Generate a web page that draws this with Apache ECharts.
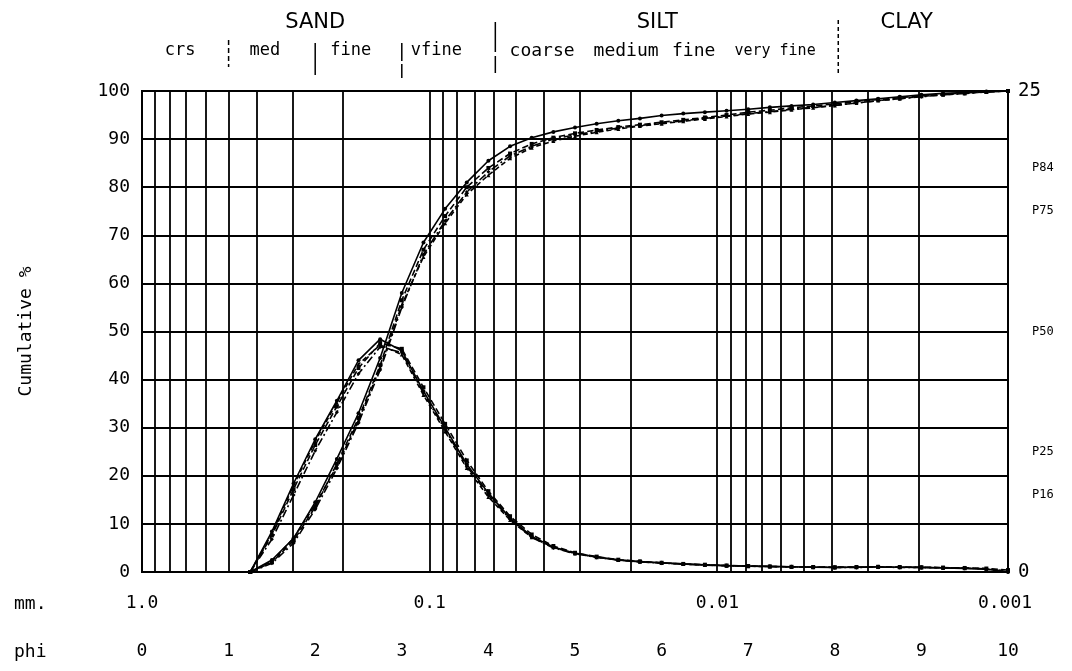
<!DOCTYPE html>
<html>
<head>
<meta charset="utf-8">
<script src="https://cdn.jsdelivr.net/npm/echarts@6/dist/echarts.min.js"></script>
<style>
html, body { margin: 0; padding: 0; background: #fff; }
#chart { width: 1072px; height: 671px; }
</style>
</head>
<body>
<div id="chart"></div>
<script>
// phi positions of the measured points (every 1/4 phi)
const phiSteps = [1.25, 1.5, 1.75, 2, 2.25, 2.5, 2.75, 3, 3.25, 3.5, 3.75, 4, 4.25, 4.5, 4.75, 5, 5.25, 5.5,
	5.75, 6, 6.25, 6.5, 6.75, 7, 7.25, 7.5, 7.75, 8, 8.25, 8.5, 8.75, 9, 9.25, 9.5, 9.75, 10]

// cumulative % (left axis)
const cum1 = [0, 2.5, 7, 14.5, 23.5, 33, 44.5, 58, 68.5, 75.5, 81, 85.5, 88.5, 90.3, 91.5, 92.4, 93.2, 93.8,
	94.3, 94.9, 95.3, 95.6, 95.9, 96.2, 96.6, 96.9, 97.2, 97.6, 98.0, 98.4, 98.8, 99.2, 99.5, 99.7, 99.9, 100]
const cum2 = [0, 2, 6.5, 13.5, 22.5, 32, 43, 56.5, 67, 74, 80, 84, 87, 89, 90.3, 91.2, 91.9, 92.5,
	93.0, 93.5, 94.0, 94.5, 95.0, 95.6, 96.0, 96.5, 96.9, 97.3, 97.8, 98.2, 98.6, 99.0, 99.3, 99.6, 99.8, 100]
const cum3 = [0, 1.8, 6, 13, 21.5, 31, 42, 55, 66, 73, 79, 83.2, 86.5, 88.5, 90, 90.9, 91.6, 92.3,
	92.8, 93.3, 93.8, 94.3, 94.8, 95.3, 95.7, 96.2, 96.6, 97.0, 97.5, 98.0, 98.4, 98.8, 99.2, 99.5, 99.8, 100]
const cum4 = [0, 2.2, 7, 14, 22, 31.5, 42.5, 55.5, 65.5, 72.5, 78.5, 82.5, 86, 88.2, 89.6, 90.6, 91.4, 92.1,
	92.7, 93.2, 93.7, 94.2, 94.7, 95.2, 95.6, 96.1, 96.5, 97.0, 97.5, 98.0, 98.4, 98.9, 99.2, 99.5, 99.8, 100]

// frequency % (right axis, 0 - 25)
const freq1 = [0, 2.1, 4.6, 6.9, 8.9, 11.0, 12.1, 11.5, 9.4, 7.5, 5.6, 4.1, 2.8, 1.85, 1.3, 0.98, 0.78, 0.63,
	0.54, 0.48, 0.42, 0.37, 0.33, 0.31, 0.29, 0.27, 0.25, 0.24, 0.25, 0.27, 0.25, 0.24, 0.21, 0.19, 0.14, 0]
const freq2 = [0, 1.9, 4.3, 6.6, 8.6, 10.6, 11.9, 11.6, 9.6, 7.7, 5.8, 4.2, 2.9, 1.95, 1.35, 1.0, 0.8, 0.64,
	0.55, 0.48, 0.42, 0.38, 0.34, 0.31, 0.29, 0.27, 0.26, 0.25, 0.26, 0.27, 0.26, 0.25, 0.23, 0.21, 0.18, 0.1]
const freq3 = [0, 1.7, 4.0, 6.3, 8.3, 10.3, 11.7, 11.4, 9.3, 7.4, 5.5, 4.0, 2.75, 1.8, 1.25, 0.95, 0.76, 0.62,
	0.52, 0.46, 0.41, 0.36, 0.32, 0.3, 0.28, 0.26, 0.25, 0.24, 0.24, 0.25, 0.24, 0.23, 0.22, 0.2, 0.16, 0]
const freq4 = [0, 2.0, 4.5, 6.8, 8.8, 10.8, 11.8, 11.3, 9.2, 7.3, 5.4, 3.9, 2.7, 1.8, 1.28, 0.96, 0.77, 0.62,
	0.53, 0.47, 0.41, 0.36, 0.33, 0.3, 0.28, 0.27, 0.25, 0.24, 0.25, 0.26, 0.25, 0.24, 0.22, 0.2, 0.17, 0.05]

// grain sizes (mm) of the vertical grid lines
const gridMm = [0.9, 0.8, 0.7, 0.6, 0.5, 0.4, 0.3, 0.2,
	0.1, 0.09, 0.08, 0.07, 0.06, 0.05, 0.04, 0.03, 0.02,
	0.01, 0.009, 0.008, 0.007, 0.006, 0.005, 0.004, 0.003, 0.002]
// mm tick labels
const mmTicks = [1, 0.1, 0.01, 0.001]
const mmTickLabels = ['1.0', '0.1', '0.01', '0.001']
// percentile labels on the right
const pctTicks = [16, 25, 50, 75, 84]
// size classes along the top
const classNames = ['SAND', 'SILT', 'CLAY']
const subClassNames = ['crs', 'med', 'fine', 'vfine', 'coarse', 'medium', 'fine', 'very fine']

const FONT = "'DejaVu Sans Mono', monospace"
const toPhi = (mm) => -Math.log2(mm)
const pairs = (ys) => phiSteps.map((p, i) => [p, ys[i]])

const lineSeries = (name, ys, yIdx, dash, symbol) => ({
	name: name,
	type: 'line',
	xAxisIndex: 0,
	yAxisIndex: yIdx,
	data: pairs(ys),
	symbol: symbol,
	symbolSize: 4,
	showSymbol: true,
	itemStyle: { color: '#000' },
	lineStyle: { color: '#000', width: 1.6, type: dash },
	z: 5,
})

const chart = echarts.init(document.getElementById('chart'))

const option = {
	animation: false,
	backgroundColor: '#fff',
	textStyle: { fontFamily: FONT, color: '#000' },
	grid: {
		left: 142,
		right: 64,
		top: 91,
		bottom: 99,
		show: true,
		borderColor: '#000',
		borderWidth: 2,
		backgroundColor: 'transparent',
	},
	xAxis: [
		{
			type: 'value',
			min: 0,
			max: 10,
			interval: 1,
			position: 'bottom',
			axisLine: { show: true, lineStyle: { color: '#000', width: 2 } },
			axisTick: { show: false },
			splitLine: { show: false },
			axisLabel: { color: '#000', fontSize: 18, fontFamily: FONT, margin: 70 },
		},
		{
			type: 'value',
			min: 0,
			max: 10,
			position: 'bottom',
			axisLine: { show: false },
			axisTick: { show: false },
			splitLine: { show: false },
			axisLabel: {
				color: '#000',
				fontSize: 18,
				fontFamily: FONT,
				margin: 22,
				customValues: mmTicks.map(toPhi),
				formatter: (v) => {
					const i = mmTicks.findIndex((m) => Math.abs(toPhi(m) - v) < 0.01)
					return i >= 0 ? mmTickLabels[i] : ''
				},
			},
		},
	],
	yAxis: [
		{
			type: 'value',
			min: 0,
			max: 100,
			interval: 10,
			position: 'left',
			name: 'Cumulative %',
			nameLocation: 'middle',
			nameRotate: 90,
			nameGap: 107,
			nameTextStyle: { fontSize: 18, fontFamily: FONT, color: '#000' },
			axisLine: { show: true, lineStyle: { color: '#000', width: 2 } },
			axisTick: { show: false },
			splitLine: { show: true, lineStyle: { color: '#000', width: 1.9 } },
			axisLabel: { color: '#000', fontSize: 18, fontFamily: FONT, margin: 12 },
		},
		{
			type: 'value',
			min: 0,
			max: 25,
			interval: 25,
			position: 'right',
			axisLine: { show: true, lineStyle: { color: '#000', width: 2 } },
			axisTick: { show: false },
			splitLine: { show: false },
			axisLabel: { color: '#000', fontSize: 19, fontFamily: FONT, margin: 10 },
		},
		{
			type: 'value',
			min: 0,
			max: 100,
			position: 'right',
			axisLine: { show: false },
			axisTick: { show: false },
			splitLine: { show: false },
			axisLabel: {
				color: '#000',
				fontSize: 12,
				fontFamily: FONT,
				margin: 24,
				customValues: pctTicks,
				formatter: (v) => 'P' + v,
			},
		},
	],
	series: [
		{
			// vertical log grid
			name: 'grid',
			type: 'line',
			xAxisIndex: 0,
			yAxisIndex: 0,
			data: [],
			silent: true,
			markLine: {
				silent: true,
				symbol: ['none', 'none'],
				label: { show: false },
				lineStyle: { color: '#000', width: 1.8, type: 'solid' },
				data: gridMm.map((m) => ({ xAxis: toPhi(m) })),
			},
		},
		lineSeries('cum1', cum1, 0, 'solid', 'circle'),
		lineSeries('cum2', cum2, 0, 'dashed', 'rect'),
		lineSeries('cum3', cum3, 0, [8, 3, 2, 3], 'diamond'),
		lineSeries('cum4', cum4, 0, [5, 3], 'triangle'),
		lineSeries('freq1', freq1, 1, 'solid', 'circle'),
		lineSeries('freq2', freq2, 1, 'dashed', 'rect'),
		lineSeries('freq3', freq3, 1, [8, 3, 2, 3], 'diamond'),
		lineSeries('freq4', freq4, 1, [5, 3], 'triangle'),
	],
}
chart.setOption(option)

// labels and dividers above the plot, placed through the phi axis
const px = (p) => chart.convertToPixel({ xAxisIndex: 0 }, p)
const classPhi = [2.0, 5.95, 8.83]
const subPhi = [0.44, 1.42, 2.41, 3.4, 4.62, 5.59, 6.37, 7.31]
const subSize = [17, 17, 17, 17, 18, 18, 18, 15]
const dividers = [
	{ phi: 1, y1: 40, y2: 67, dash: [5, 3] },
	{ phi: 2, y1: 43, y2: 75, dash: null },
	{ phi: 3, y1: 43, y2: 78, dash: [18, 3] },
	{ phi: 4.08, y1: 22, y2: 73, dash: [30, 4] },
	{ phi: 8.04, y1: 20, y2: 75, dash: [4, 3] },
]
const graphics = []
classNames.forEach((t, i) => {
	graphics.push({
		type: 'text',
		x: px(classPhi[i]),
		y: 23,
		style: { text: t, font: "21px 'DejaVu Sans'", fill: '#000', align: 'center', verticalAlign: 'middle' },
	})
})
subClassNames.forEach((t, i) => {
	graphics.push({
		type: 'text',
		x: px(subPhi[i]),
		y: 51,
		style: { text: t, font: subSize[i] + 'px ' + FONT, fill: '#000', align: 'center', verticalAlign: 'middle' },
	})
})
dividers.forEach((d) => {
	const x = px(d.phi)
	graphics.push({
		type: 'line',
		shape: { x1: x, y1: d.y1, x2: x, y2: d.y2 },
		style: { stroke: '#000', lineWidth: 1.5, lineDash: d.dash },
	})
})
graphics.push({ type: 'text', x: 14, y: 604, style: { text: 'mm.', font: '18px ' + FONT, fill: '#000', verticalAlign: 'middle' } })
graphics.push({ type: 'text', x: 14, y: 652, style: { text: 'phi', font: '18px ' + FONT, fill: '#000', verticalAlign: 'middle' } })
chart.setOption({ graphic: graphics })
</script>
</body>
</html>
